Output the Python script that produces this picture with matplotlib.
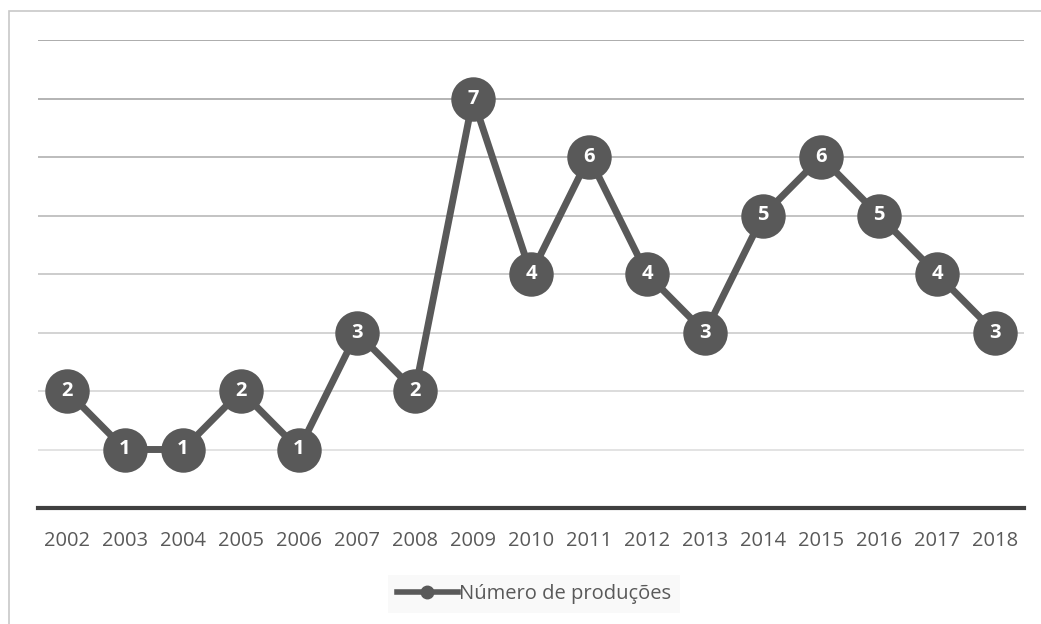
import matplotlib.pyplot as plt
from matplotlib.lines import Line2D
from matplotlib.patches import Rectangle
import numpy as np

# Chart data
years = [str(y) for y in range(2002, 2019)]
producoes = [2, 1, 1, 2, 1, 3, 2, 7, 4, 6, 4, 3, 5, 6, 5, 4, 3]
series_label = "Número de produções"

GRAY = "#595959"
plt.rcParams['font.family'] = ['Open Sans', 'DejaVu Sans']

fig = plt.figure(figsize=(10.41, 6.24), dpi=100)
ax = fig.add_axes([38 / 1041, (624 - 508) / 624, (1024 - 38) / 1041, (508 - 40) / 624])

# outer frame (only left/top visible in the reference)
fig.patches.append(Rectangle((9 / 1041, -0.1), 1.2, (624 - 11) / 624 + 0.1,
                             transform=fig.transFigure, fill=False,
                             edgecolor="#c8c8c8", linewidth=1.2))

x = np.arange(len(years))

# gridlines fading from top to bottom
for level in range(1, 9):
    shade = np.interp(level, [1, 8], [0.87, 0.62])
    ax.axhline(level, color=(shade, shade, shade), linewidth=1.2, zorder=1)

ax.plot(x, producoes, color=GRAY, linewidth=5, marker='o', markersize=32,
        markeredgewidth=0, zorder=3)
for xi, v in zip(x, producoes):
    ax.text(xi, v, str(v), ha='center', va='center', color='white',
            fontsize=14.5, fontweight='bold', zorder=4)

ax.set_xlim(-0.5, len(years) - 0.5)
ax.set_ylim(0, 8)
ax.set_xticks(x)
ax.set_xticklabels(years, fontsize=14.5, color=GRAY)
ax.set_yticks([])
ax.tick_params(axis='x', length=0, pad=16.5)
for side in ['top', 'right', 'left']:
    ax.spines[side].set_visible(False)
ax.spines['bottom'].set_color('#404040')
ax.spines['bottom'].set_linewidth(3)

handle = Line2D([], [], color=GRAY, linewidth=4, marker='o', markersize=9)
leg = fig.legend([handle], [series_label], loc='center',
                 bbox_to_anchor=(534 / 1041, 1 - 594 / 624), frameon=True,
                 fontsize=14.5, handlelength=3.0, handletextpad=0.05,
                 borderpad=0.45, borderaxespad=0, fancybox=False)
leg.get_frame().set_facecolor('#f8f8f8')
leg.get_frame().set_edgecolor('none')
for t in leg.get_texts():
    t.set_color(GRAY)

fig.savefig('out.png', dpi=100)
